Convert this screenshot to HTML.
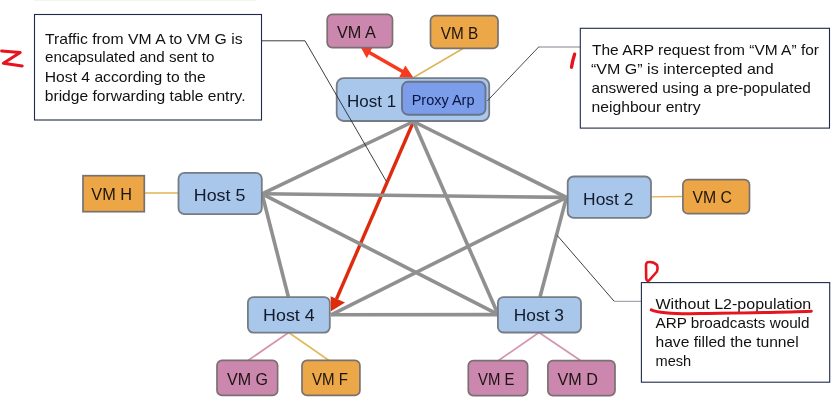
<!DOCTYPE html>
<html>
<head>
<meta charset="utf-8">
<title>L2 population diagram</title>
<style>
  html, body { margin: 0; padding: 0; background: #ffffff; }
  body { width: 833px; height: 400px; overflow: hidden; font-family: "Liberation Sans", sans-serif; }
  svg { display: block; }
  text { font-family: "Liberation Sans", sans-serif; fill: #151515; }
  .call { font-size: 14.5px; fill: #111111; }
  .host { font-size: 17px; fill: #121a2c; }
  .vm { font-size: 16px; fill: #1c1410; }
  .px { font-size: 15px; fill: #0a1440; }
</style>
</head>
<body>
<svg width="833" height="400" viewBox="0 0 833 400">
  <rect x="0" y="0" width="833" height="400" fill="#ffffff"/>

  <!-- faint top line -->
  <line x1="34" y1="0.5" x2="256" y2="0.5" stroke="#f6f4ef" stroke-width="1"/>

  <!-- red traffic line Host1 -> Host4 (under the mesh) -->
  <line x1="413.5" y1="121.5" x2="336.5" y2="299" stroke="#de2b0e" stroke-width="3.4"/>

  <!-- ===== mesh (gray tunnel lines) ===== -->
  <g stroke="#909090" stroke-width="3.6" stroke-linecap="butt" fill="none">
    <line x1="413.5" y1="121.5" x2="262" y2="193.8"/>   <!-- H1-H5 -->
    <line x1="413.5" y1="121.5" x2="566.5" y2="197.4"/> <!-- H1-H2 -->
    <line x1="413.5" y1="121.5" x2="498" y2="314.3"/>   <!-- H1-H3 -->
    <line x1="262" y1="193.8" x2="566.5" y2="197.4"/>   <!-- H5-H2 -->
    <line x1="262" y1="193.8" x2="498" y2="314.3"/>     <!-- H5-H3 -->
    <line x1="262" y1="193.8" x2="288.4" y2="297"/>     <!-- H5-H4 -->
    <line x1="566.5" y1="197.4" x2="331" y2="314.8"/>   <!-- H2-H4 -->
    <line x1="566.5" y1="197.4" x2="540" y2="297"/>     <!-- H2-H3 -->
    <line x1="331" y1="314.8" x2="498" y2="314.6"/>     <!-- H4-H3 -->
  </g>

  <!-- VM connectors -->
  <line x1="463" y1="48.5" x2="413.5" y2="77.5" stroke="#dcb557" stroke-width="1.5"/>
  <line x1="144.5" y1="193" x2="178" y2="193" stroke="#e2b450" stroke-width="1.3"/>
  <line x1="651" y1="196.8" x2="682" y2="196.5" stroke="#e2b450" stroke-width="1.3"/>
  <line x1="288.7" y1="332.5" x2="248" y2="360.5" stroke="#d494b0" stroke-width="1.7"/>
  <line x1="288.7" y1="332.5" x2="329" y2="360.5" stroke="#e2b95c" stroke-width="1.6"/>
  <line x1="539" y1="332.5" x2="498.5" y2="360.5" stroke="#d494b0" stroke-width="1.7"/>
  <line x1="539" y1="332.5" x2="580.5" y2="360.5" stroke="#d494b0" stroke-width="1.7"/>

  <!-- double red arrow VM A <-> Host 1 -->
  <line x1="368" y1="51.8" x2="406" y2="73.5" stroke="#f9391d" stroke-width="3.6"/>
  <polygon points="361,47.7 372.4,47.6 366.8,58.3" fill="#f9391d"/>
  <polygon points="413.5,77.7 405.3,65.6 399.2,77.2" fill="#f9391d"/>

  <!-- ===== Hosts ===== -->
  <g fill="#a9c7ea" stroke="#767c85" stroke-width="1.8">
    <rect x="336.7" y="78.1" width="152.5" height="42.9" rx="7" ry="7"/>
    <rect x="178.5" y="172.8" width="83.3" height="41.4" rx="6" ry="6"/>
    <rect x="567.7" y="176.5" width="83.3" height="41.4" rx="6" ry="6"/>
    <rect x="247.9" y="297.1" width="81.9" height="35.5" rx="5.5" ry="5.5"/>
    <rect x="497.9" y="297.1" width="83.1" height="35.4" rx="5.5" ry="5.5"/>
  </g>
  <!-- Proxy Arp -->
  <rect x="402.0" y="81.8" width="83.5" height="32.9" rx="6" ry="6" fill="#7b9dea" stroke="#6a7489" stroke-width="1.9"/>

  <!-- red traffic arrow Host1 -> Host4 -->
  <polygon points="331,311.3 330.6,296.2 345,302.4" fill="#de2b0e"/>

  <!-- ===== thin connector lines ===== -->
  <polyline points="261.5,40.8 305,40.8 386.3,181.3" fill="none" stroke="#262830" stroke-width="0.9"/>
  <line x1="580" y1="47" x2="538.4" y2="47" stroke="#7d828c" stroke-width="1"/>
  <line x1="538.8" y1="46.8" x2="487.4" y2="100.8" stroke="#33363e" stroke-width="0.9"/>
  <line x1="557.2" y1="235.4" x2="614.2" y2="301.3" stroke="#262830" stroke-width="0.9"/>
  <line x1="614" y1="301.3" x2="641.5" y2="301.3" stroke="#8f949c" stroke-width="1"/>

  <!-- ===== VMs ===== -->
  <g stroke="#79716f" stroke-width="1.7">
    <rect x="327.2" y="14.4" width="65.3" height="33.2" rx="5" ry="5" fill="#cc87af"/>
    <rect x="430.5" y="15.6" width="67.5" height="32.8" rx="5" ry="5" fill="#eca748"/>
    <rect x="83.0" y="175.7" width="61.3" height="36" fill="#eca645"/>
    <rect x="682.9" y="179.7" width="66.6" height="34" rx="5" ry="5" fill="#eca645"/>
    <rect x="217.0" y="360.4" width="60.6" height="35" rx="5" ry="5" fill="#cc87af"/>
    <rect x="302.0" y="360.4" width="57.9" height="35" rx="5" ry="5" fill="#eca748"/>
    <rect x="468.3" y="360.6" width="59.3" height="35" rx="5" ry="5" fill="#cc87af"/>
    <rect x="547.9" y="360.6" width="67.1" height="35" rx="5" ry="5" fill="#cc87af"/>
  </g>

  <!-- ===== Callout boxes ===== -->
  <g fill="#ffffff" stroke="#1f2a48" stroke-width="1.1">
    <rect x="34.5" y="14.5" width="227" height="105.5"/>
    <rect x="580.3" y="28.3" width="249.2" height="99.8"/>
    <rect x="641.4" y="282.6" width="188.3" height="99.6"/>
  </g>

  <g style="will-change: transform">
  <!-- ===== Text: hosts ===== -->
  <text class="host" x="193.8" y="200.8" textLength="51.6" lengthAdjust="spacingAndGlyphs">Host 5</text>
  <text class="host" x="347.0" y="107" textLength="49.1" lengthAdjust="spacingAndGlyphs">Host 1</text>
  <text class="host" x="583.1" y="204.5" textLength="50.3" lengthAdjust="spacingAndGlyphs">Host 2</text>
  <text class="host" x="263.1" y="321.3" textLength="51.6" lengthAdjust="spacingAndGlyphs">Host 4</text>
  <text class="host" x="513.8" y="321.3" textLength="50.2" lengthAdjust="spacingAndGlyphs">Host 3</text>
  <text class="px" x="411.7" y="104.6" textLength="62.8" lengthAdjust="spacingAndGlyphs">Proxy Arp</text>

  <!-- ===== Text: VMs ===== -->
  <text class="vm" x="337" y="37.5" textLength="38.8" lengthAdjust="spacingAndGlyphs">VM A</text>
  <text class="vm" x="440.8" y="38.8" textLength="37.5" lengthAdjust="spacingAndGlyphs">VM B</text>
  <text class="vm" x="91.3" y="200" textLength="40.7" lengthAdjust="spacingAndGlyphs">VM H</text>
  <text class="vm" x="692.5" y="203.3" textLength="39.5" lengthAdjust="spacingAndGlyphs">VM C</text>
  <text class="vm" x="227" y="385" textLength="41" lengthAdjust="spacingAndGlyphs">VM G</text>
  <text class="vm" x="312" y="385" textLength="36" lengthAdjust="spacingAndGlyphs">VM F</text>
  <text class="vm" x="478" y="385" textLength="36.4" lengthAdjust="spacingAndGlyphs">VM E</text>
  <text class="vm" x="557.6" y="385" textLength="40.4" lengthAdjust="spacingAndGlyphs">VM D</text>

  <!-- ===== Text: callout 1 ===== -->
  <text class="call" x="45" y="43.6" textLength="197.6" lengthAdjust="spacingAndGlyphs">Traffic from VM A to VM G is</text>
  <text class="call" x="45" y="62.4" textLength="169.4" lengthAdjust="spacingAndGlyphs">encapsulated and sent to</text>
  <text class="call" x="44.8" y="81.7" textLength="161" lengthAdjust="spacingAndGlyphs">Host 4 according to the</text>
  <text class="call" x="44.8" y="100.8" textLength="200.8" lengthAdjust="spacingAndGlyphs">bridge forwarding table entry.</text>

  <!-- ===== Text: callout 2 ===== -->
  <text class="call" x="592" y="55" textLength="227" lengthAdjust="spacingAndGlyphs">The ARP request from “VM A” for</text>
  <text class="call" x="591" y="73.8" textLength="182.7" lengthAdjust="spacingAndGlyphs">“VM G” is intercepted and</text>
  <text class="call" x="591.5" y="92.5" textLength="219.2" lengthAdjust="spacingAndGlyphs">answered using a pre-populated</text>
  <text class="call" x="591.5" y="111.5" textLength="109" lengthAdjust="spacingAndGlyphs">neighbour entry</text>

  <!-- ===== Text: callout 3 ===== -->
  <text class="call" x="655.5" y="308.8" textLength="155.7" lengthAdjust="spacingAndGlyphs">Without L2-population</text>
  <text class="call" x="655.5" y="327.5" textLength="154" lengthAdjust="spacingAndGlyphs">ARP broadcasts would</text>
  <text class="call" x="655.5" y="347" textLength="143.2" lengthAdjust="spacingAndGlyphs">have filled the tunnel</text>
  <text class="call" x="655.5" y="366.2" textLength="35.7" lengthAdjust="spacingAndGlyphs">mesh</text>

  </g>
  <!-- ===== Red hand annotations ===== -->
  <g fill="none" stroke="#e6141e" stroke-linecap="round" stroke-linejoin="round">
    <!-- "2" / Z -->
    <path d="M1.6,51 L20.2,52.5 L3.4,63.3 L22.2,65.9" stroke-width="3"/>
    <!-- "1" -->
    <path d="M574.6,54.2 Q572.6,60 571.5,67.2" stroke-width="3.4"/>
    <!-- "0" -->
    <path d="M647.3,262.3 C651,261.6 655,263 657,265 C657.8,267 657.8,269.5 657,271.5 L649.2,280.3 C647.5,281.6 646.3,280.5 646.2,278 L646,266 C646,264 646.3,262.8 647.3,262.3 Z" stroke-width="2.6"/>
    <!-- underline -->
    <path d="M651.3,309.8 C660,313.5 680,314 700,313.6 C740,313 780,312.6 811.3,311.3" stroke-width="3"/>
  </g>
</svg>
</body>
</html>
